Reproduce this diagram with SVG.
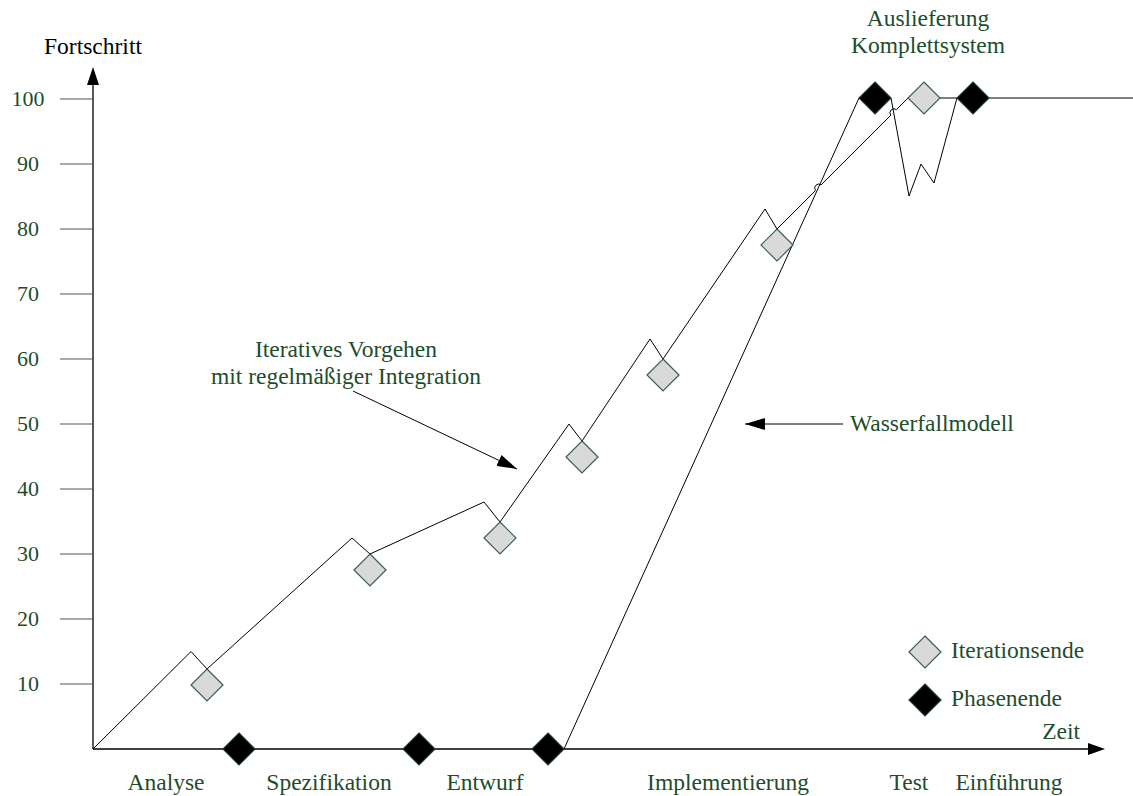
<svg xmlns="http://www.w3.org/2000/svg" width="1133" height="796" viewBox="0 0 1133 796">
  <style>
    text { font-family: "Liberation Serif", "Times New Roman", serif; font-size: 23.5px; fill: #1e4d2b; }
    .num { font-size: 22px; }
    .black { fill: #000; }
    .axis { stroke: #000; stroke-width: 1.3; fill: none; }
    .tick { stroke: #555; stroke-width: 1.2; }
    .curve { stroke: #000; stroke-width: 1; fill: none; }
    .iter { fill: #d9d9d9; stroke: #3a6048; stroke-width: 1.2; }
    .phase { fill: #000; stroke: #1e3d28; stroke-width: 1.2; }
  </style>
  <defs>
    <path id="dia" d="M0,-16 L16,0 L0,16 L-16,0 Z"/>
    <marker id="arr" viewBox="0 0 20 12" refX="20" refY="6" markerWidth="20" markerHeight="12" markerUnits="userSpaceOnUse" orient="auto">
      <path d="M0,0 L20,6 L0,12 Z" fill="#000"/>
    </marker>
  </defs>
  <rect width="1133" height="796" fill="#fff"/>

  <!-- axes -->
  <g id="axes">
    <line class="axis" x1="93" y1="749" x2="93" y2="84"/>
    <path d="M87,85 L93,67 L99,85 Z" fill="#000"/>
    <line class="axis" x1="93" y1="749" x2="1088" y2="749"/>
    <path d="M1088,743 L1105,749 L1088,755 Z" fill="#000"/>
    <g class="tick">
      <line x1="60" y1="99" x2="93" y2="99"/>
      <line x1="60" y1="164" x2="93" y2="164"/>
      <line x1="60" y1="229" x2="93" y2="229"/>
      <line x1="60" y1="294" x2="93" y2="294"/>
      <line x1="60" y1="359" x2="93" y2="359"/>
      <line x1="60" y1="424" x2="93" y2="424"/>
      <line x1="60" y1="489" x2="93" y2="489"/>
      <line x1="60" y1="554" x2="93" y2="554"/>
      <line x1="60" y1="619" x2="93" y2="619"/>
      <line x1="60" y1="684" x2="93" y2="684"/>
    </g>
    <g text-anchor="middle" class="num">
      <text class="num" x="28" y="106">100</text>
      <text class="num" x="28" y="171">90</text>
      <text class="num" x="28" y="236">80</text>
      <text class="num" x="28" y="301">70</text>
      <text class="num" x="28" y="366">60</text>
      <text class="num" x="28" y="431">50</text>
      <text class="num" x="28" y="496">40</text>
      <text class="num" x="28" y="561">30</text>
      <text class="num" x="28" y="626">20</text>
      <text class="num" x="28" y="691">10</text>
    </g>
    <text class="black" x="93" y="54" text-anchor="middle">Fortschritt</text>
    <text x="1080" y="739" text-anchor="end">Zeit</text>
    <g text-anchor="middle">
      <text x="166" y="790">Analyse</text>
      <text x="329" y="790">Spezifikation</text>
      <text x="485" y="790">Entwurf</text>
      <text x="728" y="790">Implementierung</text>
      <text x="909" y="790">Test</text>
      <text x="1009" y="790">Einführung</text>
    </g>
  </g>

  <!-- connectors: progress curves and pointer arrows -->
  <g id="connectors">
    <path id="iterativ" class="curve" d="M93,749 L191,651.5 L207,669 L352,538 L370,554 L484,502 L500,522 L569,424 L582,441 L650,339 L663,359 L765,209 L777,229 L815.5,190.5 A4,4 0 0 1 821.1,184.9 L890.8,115.2 A4,4 0 0 1 896.4,109.6 L908,98"/>
    <path id="wasserfall" class="curve" d="M564,749 L859,98 M891,98 L909,196 L921,164 L934,183 L957,98"/>
    <path class="curve" d="M940,98 L957,98 M989,98 L1133,98"/>
    <line class="curve" x1="353" y1="391" x2="517" y2="469" marker-end="url(#arr)"/>
    <line class="curve" x1="843" y1="424" x2="745" y2="424" marker-end="url(#arr)"/>
  </g>

  <!-- iteration ends -->
  <g id="iterationsende">
    <use href="#dia" class="iter" x="207" y="685"/>
    <use href="#dia" class="iter" x="370" y="570"/>
    <use href="#dia" class="iter" x="500" y="538"/>
    <use href="#dia" class="iter" x="582" y="457"/>
    <use href="#dia" class="iter" x="663" y="375"/>
    <use href="#dia" class="iter" x="777" y="245"/>
    <use href="#dia" class="iter" x="924" y="98"/>
  </g>

  <!-- phase ends -->
  <g id="phasenende">
    <use href="#dia" class="phase" x="239" y="749"/>
    <use href="#dia" class="phase" x="419" y="749"/>
    <use href="#dia" class="phase" x="548" y="749"/>
    <use href="#dia" class="phase" x="875" y="98"/>
    <use href="#dia" class="phase" x="973" y="98"/>
  </g>

  <!-- annotations -->
  <g id="label-iterativ" text-anchor="middle">
    <text x="346" y="357">Iteratives Vorgehen</text>
    <text x="346" y="384">mit regelmäßiger Integration</text>
  </g>
  <g id="label-wasserfall">
    <text x="850" y="431">Wasserfallmodell</text>
  </g>
  <g id="label-auslieferung" text-anchor="middle">
    <text x="928" y="26">Auslieferung</text>
    <text x="928" y="53">Komplettsystem</text>
  </g>

  <!-- legend -->
  <g id="legend">
    <use href="#dia" class="iter" x="925" y="652"/>
    <text x="951" y="658">Iterationsende</text>
    <use href="#dia" class="phase" x="925" y="700"/>
    <text x="951" y="706">Phasenende</text>
  </g>
</svg>
